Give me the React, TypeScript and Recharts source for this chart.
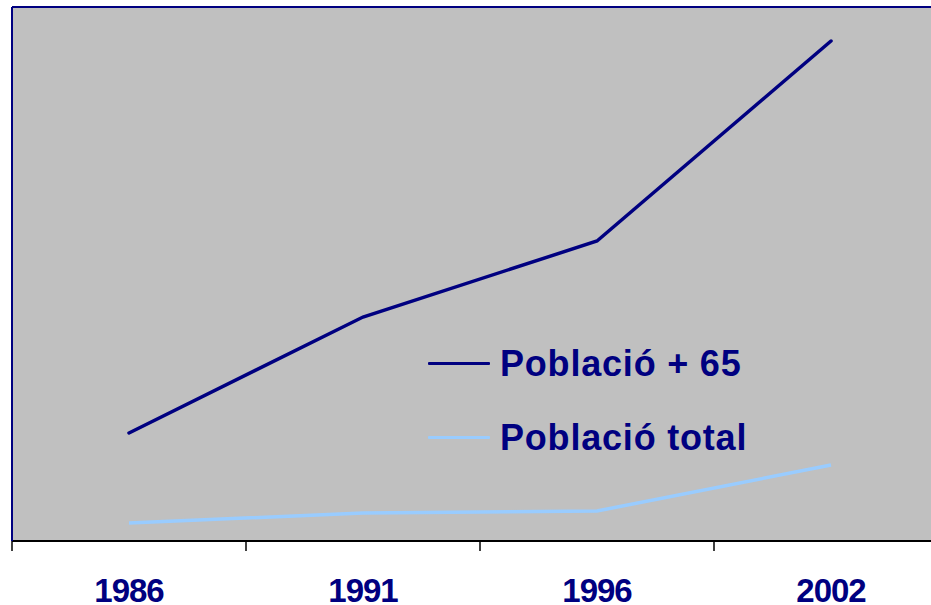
import React from 'react';
import { LineChart, Line, XAxis, YAxis, CartesianGrid, ReferenceLine, Legend } from 'recharts';

const years = ['1986', '1991', '1996', '2002'];
const poblacio65 = [108, 224, 300, 500];
const poblacioTotal = [18, 28, 30, 76];
const yMax = 534;

const data = years.map((y, i) => ({ year: y, p65: poblacio65[i], total: poblacioTotal[i] }));

const NAVY = '#000080';
const LIGHT = '#99CCFF';
const FONT = '"Liberation Sans", Arial, Helvetica, sans-serif';
const TICK_SIZE = 10;
const TICK_MARGIN = 28;

const YearTick = (props: any) => {
  const { x, y, payload } = props;
  const half = payload && typeof payload.offset === 'number' ? payload.offset : 0;
  const axisY = y - TICK_MARGIN - TICK_SIZE;
  return (
    <g>
      <line x1={x - half} x2={x - half} y1={axisY} y2={axisY + TICK_SIZE} stroke="#000" strokeWidth={1.5} />
      <text
        x={x}
        y={y}
        dy="0.71em"
        textAnchor="middle"
        fill={NAVY}
        fontSize={33}
        fontWeight="bold"
        fontFamily={FONT}
        letterSpacing={-1}
      >
        {payload.value}
      </text>
    </g>
  );
};

const LegendContent = (props: any) => {
  const payload = props.payload || [];
  return (
    <div style={{ fontFamily: FONT }}>
      {payload.map((p: any, i: number) => (
        <div
          key={i}
          style={{ display: 'flex', alignItems: 'center', height: 37, marginBottom: 37 }}
        >
          <span style={{ display: 'inline-block', width: 62, height: 3, background: p.color, borderRadius: 1 }} />
          <span
            style={{
              marginLeft: 10,
              color: NAVY,
              fontWeight: 'bold',
              fontSize: 36,
              letterSpacing: 0.8,
              whiteSpace: 'nowrap',
              lineHeight: '37px',
            }}
          >
            {p.value}
          </span>
        </div>
      ))}
    </div>
  );
};

export default function App() {
  return (
    <div style={{ position: 'absolute', left: 0, top: 0, width: 931, height: 605, overflow: 'hidden', background: '#fff' }}>
      <LineChart width={958} height={605} data={data} margin={{ top: 7, right: 10, bottom: 0, left: 11 }}>
        <CartesianGrid fill="#C0C0C0" horizontal={false} vertical={false} />
        <XAxis
          dataKey="year"
          type="category"
          scale="band"
          height={64}
          axisLine={{ stroke: '#000', strokeWidth: 2 }}
          tickLine={false}
          tickSize={TICK_SIZE}
          tickMargin={TICK_MARGIN}
          interval={0}
          tick={<YearTick />}
        />
        <YAxis
          width={1}
          domain={[0, yMax]}
          tickFormatter={() => ''}
          tickLine={false}
          axisLine={{ stroke: NAVY, strokeWidth: 2 }}
        />
        <ReferenceLine y={yMax} stroke={NAVY} strokeWidth={2} />
        <Line
          dataKey="p65"
          name="Població + 65"
          stroke={NAVY}
          strokeWidth={3.5}
          dot={false}
          activeDot={false}
          isAnimationActive={false}
          strokeLinecap="round"
        />
        <Line
          dataKey="total"
          name="Població total"
          stroke={LIGHT}
          strokeWidth={3.5}
          dot={false}
          activeDot={false}
          isAnimationActive={false}
        />
        <Legend
          content={<LegendContent />}
          layout="vertical"
          align="center"
          verticalAlign="middle"
          wrapperStyle={{ position: 'absolute', left: 428, top: 345, width: 'auto' }}
        />
      </LineChart>
    </div>
  );
}
